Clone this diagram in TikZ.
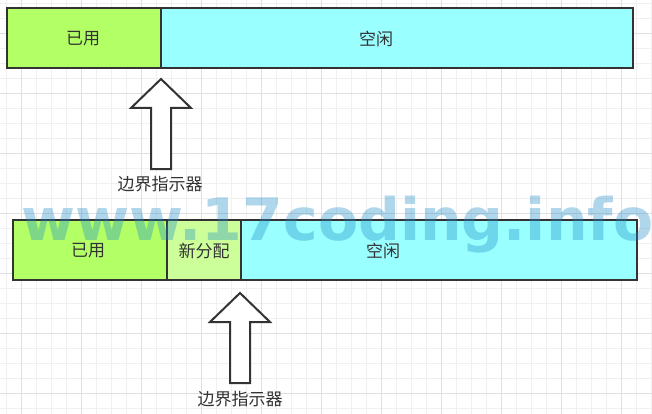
\documentclass[tikz,border=0pt]{standalone}
\usepackage{fontspec}
\newfontfamily\cjk{Noto Sans CJK SC}
\newfontfamily\wmfont{DejaVu Sans}
\definecolor{usedgreen}{HTML}{B3FF66}
\definecolor{newgreen}{HTML}{CCFF99}
\definecolor{freecyan}{HTML}{99FFFF}
\definecolor{edge}{HTML}{333333}
\definecolor{gridminor}{HTML}{F0F0F0}
\definecolor{gridmajor}{HTML}{E0E0E0}
\definecolor{wmblue}{RGB}{30,140,200}
\tikzset{
  membox/.style={draw=edge, line width=2pt, anchor=north west, minimum height=60pt, inner sep=0pt, outer sep=0pt},
  lbl/.style={font=\cjk\fontsize{17}{17}\selectfont, text=edge, inner sep=0pt},
  arrowline/.style={draw=edge, fill=white, line width=2pt, line join=miter},
  pics/uparrow/.style={code={
    \path[arrowline] (0,0) -- (30,29) -- (10,29) -- (10,90) -- (-10,90) -- (-10,29) -- (-30,29) -- cycle;
  }}
}
\begin{document}
\begin{tikzpicture}[x=1pt,y=-1pt]
\useasboundingbox (0,0) rectangle (652,414);
\fill[white] (0,0) rectangle (652,414);
% grid
\foreach \gx in {6.7,21.7,...,652}{\draw[gridminor, line width=1pt] (\gx,0) -- (\gx,414);}
\foreach \gy in {3.3,18.3,...,414}{\draw[gridminor, line width=1pt] (0,\gy) -- (652,\gy);}
\foreach \gx in {21.7,81.7,...,652}{\draw[gridmajor, line width=1pt] (\gx,0) -- (\gx,414);}
\foreach \gy in {33.3,93.3,...,414}{\draw[gridmajor, line width=1pt] (0,\gy) -- (652,\gy);}
% top bar
\node[membox, fill=usedgreen, minimum width=154pt] (used1) at (7,8) {};
\node[membox, fill=freecyan, minimum width=472pt] (free1) at (161,8) {};
\node[lbl] (tused1) at (83,39) {已用};
\node[lbl] (tfree1) at (376,39) {空闲};
% top arrow
\coordinate (tip1) at (161,79);
\pic at (tip1) {uparrow};
\node[lbl] (ptr1) at (160,184) {边界指示器};
% bottom bar
\node[membox, fill=usedgreen, minimum width=154pt] (used2) at (13,220) {};
\node[membox, fill=newgreen, minimum width=74pt] (new2) at (167,220) {};
\node[membox, fill=freecyan, minimum width=396pt] (free2) at (241,220) {};
\node[lbl] (tused2) at (88,251) {已用};
\node[lbl] (tnew2) at (204,251) {新分配};
\node[lbl] (tfree2) at (383,251) {空闲};
% bottom arrow
\coordinate (tip2) at (240,293);
\pic at (tip2) {uparrow};
\node[lbl] (ptr2) at (240,399) {边界指示器};
% watermark
\node[font=\wmfont\bfseries\fontsize{58.5}{58.5}\selectfont, text=wmblue, text opacity=0.35, anchor=base west, inner sep=0pt] (wm) at (21,240) {www.17coding.info};
\end{tikzpicture}
\end{document}
